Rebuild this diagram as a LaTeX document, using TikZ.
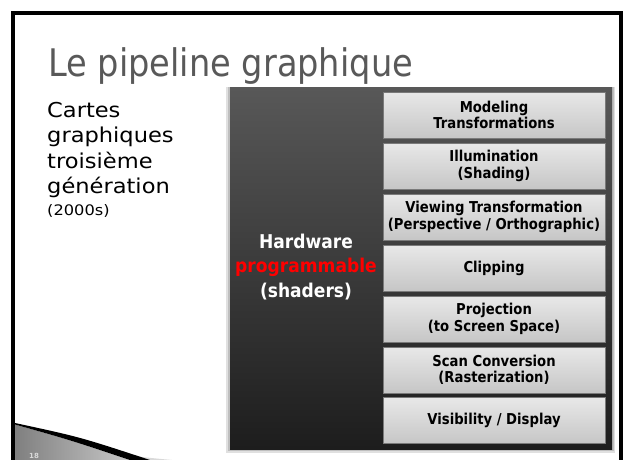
\documentclass[tikz,border=0pt]{standalone}
\usepackage{fontspec}
\setmainfont{DejaVu Sans}
\definecolor{titlegray}{HTML}{595959}
\definecolor{paneltop}{HTML}{585858}
\definecolor{panelbot}{HTML}{1D1D1D}
\definecolor{stagetop}{HTML}{E8E8E8}
\definecolor{stagebot}{HTML}{C6C6C6}
\definecolor{stageedge}{HTML}{7A7A7A}
\newcommand{\narrow}[2]{\scalebox{#1}[1]{#2}}
\tikzset{
  stagebox/.style={draw=stageedge, line width=0.9pt,
    top color=stagetop, bottom color=stagebot,
    minimum width=222pt, minimum height=46pt, inner sep=0pt,
    align=center, text=black,
    font=\bfseries\fontsize{15}{16.5}\selectfont},
  bodytext/.style={anchor=base west, inner sep=0pt, text=black,
    font=\fontsize{20.5}{25}\selectfont},
  hwtext/.style={anchor=base, inner sep=0pt,
    font=\bfseries\fontsize{19}{22}\selectfont}
}
\begin{document}
\begin{tikzpicture}[x=1pt,y=-1pt]
\useasboundingbox (0,0) rectangle (626,460);
\fill[white] (0,0) rectangle (626,460);

% slide frame
\draw[line width=4pt] (13,475) -- (13,13) -- (621,13) -- (621,475);

% title
\node[anchor=base west, inner sep=0pt, text=titlegray,
      font=\fontsize{38}{42}\selectfont] (title) at (48,77)
      {\narrow{0.885}{Le pipeline graphique}};

% left caption
\node[bodytext] (l1) at (47,117) {\narrow{1.1}{Cartes}};
\node[bodytext] (l2) at (47,142.5) {\narrow{1.1}{graphiques}};
\node[bodytext] (l3) at (47,168) {\narrow{1.1}{troisième}};
\node[bodytext] (l4) at (47,193) {\narrow{1.1}{génération}};
\node[bodytext, font=\fontsize{14.5}{18}\selectfont] (l5) at (47,215)
      {\narrow{1.12}{(2000s)}};

% dark panel with soft shadow
\fill[black!12] (226,87) rectangle (615,453);
\fill[black!25] (228,87) rectangle (613.5,451);
\shade[top color=paneltop, bottom color=panelbot] (230,87) rectangle (612,449);

\node[hwtext, text=white] (hw1) at (306,248) {\narrow{0.9}{Hardware}};
\node[hwtext, text=red] (hw2) at (306,272.5) {\narrow{0.9}{programmable}};
\node[hwtext, text=white] (hw3) at (306,297) {\narrow{0.9}{(shaders)}};

% pipeline stages
\node[stagebox] (s1) at (494,115) {\narrow{0.88}{Modeling}\\\narrow{0.88}{Transformations}};
\node[stagebox] (s2) at (494,166) {\narrow{0.88}{Illumination}\\\narrow{0.88}{(Shading)}};
\node[stagebox] (s3) at (494,217) {\narrow{0.88}{Viewing Transformation}\\\narrow{0.88}{(Perspective / Orthographic)}};
\node[stagebox] (s4) at (494,268) {\narrow{0.88}{Clipping}};
\node[stagebox] (s5) at (494,319) {\narrow{0.88}{Projection}\\\narrow{0.88}{(to Screen Space)}};
\node[stagebox] (s6) at (494,370) {\narrow{0.88}{Scan Conversion}\\\narrow{0.88}{(Rasterization)}};
\node[stagebox] (s7) at (494,420.5) {\narrow{0.88}{Visibility / Display}};

% bottom-left swoosh ornament
\shade[left color=black!50, right color=black!22]
  (15,424.5) .. controls (70,440) .. (130,460) -- (15,460) -- cycle;
\fill[black!15] (110,452) .. controls (140,457) .. (172,460) -- (150,460) -- cycle;
\fill[black] (15,423) .. controls (80,437) .. (150,460) -- (130,460)
  .. controls (70,440) .. (15,424.5) -- cycle;
\node[anchor=base west, inner sep=0pt, text=white!85!black,
      font=\bfseries\fontsize{7}{8}\selectfont] (pg) at (29,458) {18};
\end{tikzpicture}
\end{document}
